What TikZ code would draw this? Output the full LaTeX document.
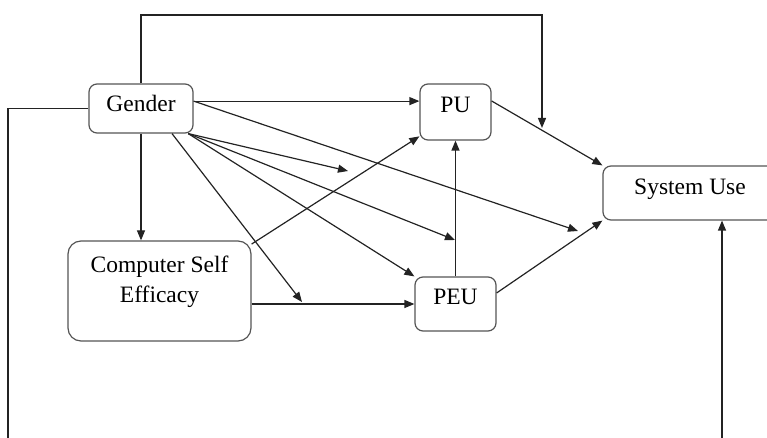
\documentclass[tikz,border=0pt]{standalone}
\usepackage{fontspec}
\setmainfont{Liberation Serif}
\usepackage{tikz}
\usetikzlibrary{arrows.meta,positioning,calc}
\definecolor{edge}{RGB}{35,35,35}
\definecolor{frame}{RGB}{85,85,85}

\begin{document}
\begin{tikzpicture}[
    x=0.5pt, y=-0.5pt,
    factor/.style={rectangle, draw=frame, line width=0.6pt, rounded corners=4pt, inner sep=0pt, text height=8pt, font=\fontsize{11.75}{15}\selectfont},
    link/.style={draw=edge, line width=0.6pt, -{Triangle[length=5pt,width=4pt]}}
]
    \path[use as bounding box, clip] (0,0) rectangle (767,438);

    % constructs
    \node[factor, minimum width=52pt, minimum height=24.5pt, text depth=4.7pt] (gender) at (141,108.5) {Gender};
    \node[factor, minimum width=35.5pt, minimum height=28pt, text depth=7.2pt] (pu) at (455.5,112) {PU};
    \node[factor, minimum width=40.5pt, minimum height=27pt, text depth=7.5pt] (peu) at (455.5,304) {PEU};
    \node[factor, minimum width=87pt, minimum height=27pt, text depth=6.5pt] (su) at (690,193) {System Use};
    \node[factor, minimum width=91.5pt, minimum height=50pt, rounded corners=6.5pt, align=center, text height=23pt, text depth=11.2pt] (cse) at (159.5,291) {Computer Self\\Efficacy};

    % free ends of the moderating arrows
    \coordinate (top) at (542,15);
    \coordinate (onpusu) at (542,128);
    \coordinate (oncsepu) at (348,171);
    \coordinate (onpeupu) at (455,240);
    \coordinate (oncsepeu) at (302,302);
    \coordinate (nearsu) at (578,231);
    \coordinate (lb) at (8,470);
    \coordinate (rb) at (722,470);

    % main paths
    \draw[link] (gender.8) -- (gender.8 -| pu.west);
    \draw[link] (gender.south) -- (gender.south |- cse.north);
    \draw[link] (cse.27) -- (pu.-146);
    \draw[link] (peu.west -| cse.east) -- (peu.west);
    \draw[link] (peu.north) -- (pu.south);
    \draw[link] (pu.17) -- (su.north west);
    \draw[link] (peu.15) -- (su.south west);
    \draw[link] (gender.-28) -- (peu.north west);

    % gender as moderator
    \draw[link] (gender.north) |- (top) -- (onpusu);
    \draw[link] (gender.8) -- (nearsu);
    \draw[link] (gender.-28) -- (oncsepu);
    \draw[link] (gender.-28) -- (onpeupu);
    \draw[link] (gender.-39) -- (oncsepeu);
    \draw[link] (gender.west) -| (lb) -- (rb) -- (rb |- su.south);
\end{tikzpicture}
\end{document}
